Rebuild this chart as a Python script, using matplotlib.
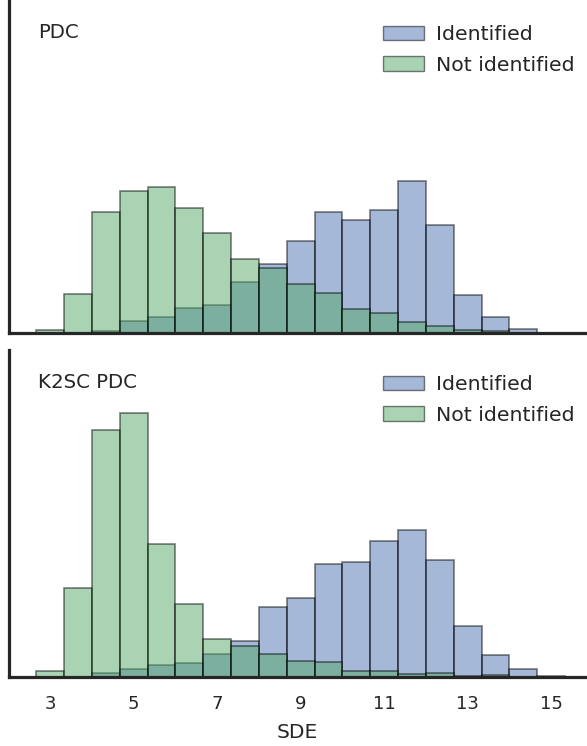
import numpy as np
import matplotlib
matplotlib.use("Agg")
import matplotlib.pyplot as plt
from matplotlib.patches import Patch

# bin edges of the SDE histograms (width 2/3)
edges = np.arange(4, 24) * 2.0 / 3.0

panels = ["PDC", "K2SC PDC"]
labels = ["Identified", "Not identified"]

# heights (arbitrary units)
pdc_ident = [0, 0, 1.7, 12, 16.3, 25.3, 27.7, 51, 69, 92, 121, 112.7, 123.3, 151.7, 108.3, 38, 16, 4.3, 0]
pdc_notident = [3.3, 39.3, 121.3, 142.3, 145.7, 125.3, 99.7, 74, 64.7, 48.7, 40.3, 23.7, 19.7, 11, 6.7, 2.7, 2, 0, 0]
k2sc_ident = [0, 0, 4, 7.7, 12, 14.3, 23, 36, 70, 79.3, 113.3, 115.3, 135.7, 147.3, 117.3, 51.3, 22, 7.7, 0.7]
k2sc_notident = [6, 89, 247, 264, 133.3, 73, 38, 30.7, 23.3, 16, 14.7, 6, 6, 3.3, 4, 0.7, 2.3, 0, 0]

xticks = [3, 5, 7, 9, 11, 13, 15]

blue = "#4C72B0"
green = "#55A868"
dark = "#262626"

W, H = 587, 746
fig = plt.figure(figsize=(W / 100, H / 100), dpi=100)

# axes placed in pixels: (left, top, right, bottom)
boxes = [(8.5, 0, 587, 333), (8.5, 350, 587, 677)]
ymaxes = [333, 327]
data = [(pdc_ident, pdc_notident), (k2sc_ident, k2sc_notident)]

for i, (box, ymax, (ident, notident), name) in enumerate(zip(boxes, ymaxes, data, panels)):
    l, t, r, b = box
    ax = fig.add_axes([l / W, (H - b) / H, (r - l) / W, (b - t) / H])
    widths = np.diff(edges)
    ax.bar(edges[:-1], ident, width=widths, align="edge", color=blue, alpha=0.5,
           edgecolor="k", linewidth=1.2)
    ax.bar(edges[:-1], notident, width=widths, align="edge", color=green, alpha=0.5,
           edgecolor="k", linewidth=1.2)
    ax.set_xlim(2.0, 15.857)
    ax.set_ylim(0, ymax)
    for s in ["top", "right"]:
        ax.spines[s].set_visible(False)
    for s in ["left", "bottom"]:
        ax.spines[s].set_linewidth(2.3)
        ax.spines[s].set_color(dark)
    ax.set_yticks([])
    ax.tick_params(axis="x", length=0, labelsize=13, colors=dark, pad=13)
    ax.set_xticks(xticks)
    if i == 0:
        ax.set_xticklabels([])
    else:
        ax.set_xlabel("SDE", fontsize=14.5, color=dark, labelpad=7)
    ax.text(29.5 / (r - l), 1 - 32 / (b - t), name, transform=ax.transAxes,
            fontsize=14.2, color=dark, va="center", ha="left")
    handles = [Patch(facecolor=blue, alpha=0.5, edgecolor="k", linewidth=1.0),
               Patch(facecolor=green, alpha=0.5, edgecolor="k", linewidth=1.0)]
    leg = ax.legend(handles, labels, loc="upper right", frameon=False, fontsize=14.7,
                    bbox_to_anchor=(1.0 + 6 / (r - l), 1.0 - 7 / (b - t)), handlelength=2.0,
                    handletextpad=0.6, labelspacing=0.55)
    for txt in leg.get_texts():
        txt.set_color(dark)

fig.savefig("out.png", dpi=100)
